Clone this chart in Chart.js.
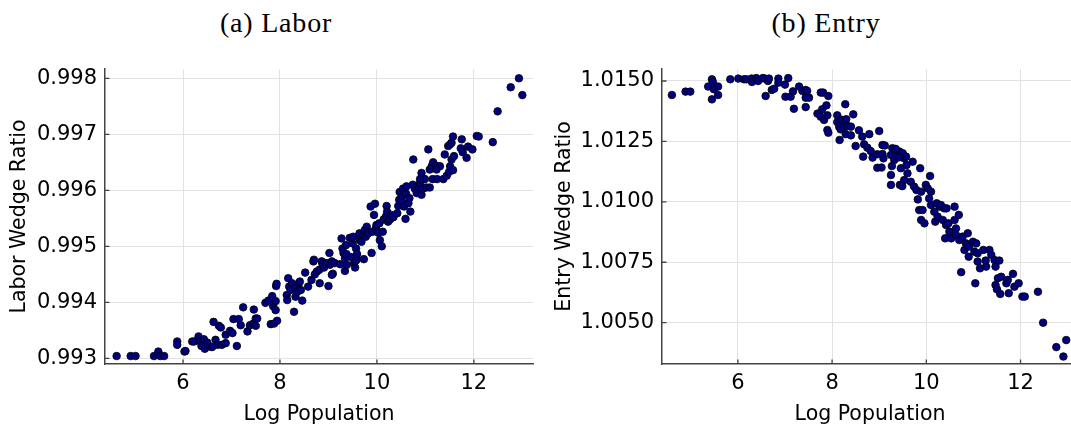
<!DOCTYPE html>
<html>
<head>
<meta charset="utf-8">
<script src="https://cdn.jsdelivr.net/npm/chart.js@4.4.1/dist/chart.umd.min.js"></script>
<style>
  html, body { margin: 0; padding: 0; background: #fff; overflow: hidden; width: 1071px; height: 424px; }
  .panel { position: absolute; top: 0; height: 430px; }
  .caption {
    position: absolute; top: 9px; width: 240px; text-align: center;
    font-family: "Liberation Serif", serif; font-size: 28px; line-height: 28px;
    letter-spacing: 0.8px; color: #000; white-space: nowrap;
  }
</style>
</head>
<body>
<div class="caption" style="left:156px">(a) Labor</div>
<div class="caption" style="left:706px">(b) Entry</div>
<div class="panel" style="left:0;width:540px"><canvas id="labor"></canvas></div>
<div class="panel" style="left:540px;width:545px"><canvas id="entry"></canvas></div>

<script>
// Shared x-axis ticks (log population)
const xTicks = [6, 8, 10, 12];

// Panel (a): labor wedge ratio by city
const laborTicks = [0.993, 0.994, 0.995, 0.996, 0.997, 0.998];
const laborLogPop = [
  4.63, 4.92, 5.02, 5.40, 5.49, 5.53, 5.61, 5.88, 5.88, 6.03, 6.05, 6.19, 6.23, 6.32, 6.34, 6.38,
  6.43, 6.45, 6.50, 6.56, 6.60, 6.63, 6.67, 6.71, 6.74, 6.78, 6.80, 6.88, 6.88, 6.97, 7.04, 7.15,
  7.02, 7.11, 7.19, 7.24, 7.33, 7.38, 7.45, 7.46, 7.50, 7.53, 7.50, 7.70, 7.76, 7.81, 7.84, 7.86,
  7.88, 7.91, 7.91, 7.92, 7.93, 7.94, 8.14, 8.15, 8.17, 8.19, 8.22, 8.25, 8.29, 8.31, 8.32, 8.36,
  8.39, 8.43, 8.46, 8.41, 8.52, 8.58, 8.65, 8.69, 8.70, 8.72, 8.76, 8.81, 8.82, 8.86, 8.88, 8.91,
  8.96, 9.00, 9.02, 9.03, 9.07, 9.09, 9.13, 9.24, 9.27, 9.29, 9.31, 9.34, 9.34, 9.36, 9.37, 9.38,
  9.44, 9.46, 9.50, 9.51, 9.53, 9.55, 9.57, 9.58, 9.59, 9.64, 9.65, 9.68, 9.72, 9.73, 9.75, 9.77,
  9.79, 9.80, 9.82, 9.87, 9.89, 9.91, 9.94, 9.96, 9.98, 9.99, 10.03, 10.05, 10.06, 10.10, 10.12, 10.14,
  10.19, 10.20, 10.21, 10.23, 10.27, 10.30, 10.34, 10.42, 10.44, 10.46, 10.47, 10.51, 10.53, 10.54, 10.56, 10.60,
  10.61, 10.65, 10.67, 10.69, 10.74, 10.78, 10.82, 10.85, 10.89, 10.92, 10.95, 10.75, 10.92, 10.99, 10.89, 11.02,
  11.09, 11.06, 11.09, 11.13, 11.16, 11.15, 11.22, 11.24, 11.30, 11.37, 11.40, 11.44, 11.47, 11.49, 11.51, 11.51,
  11.54, 11.54, 11.57, 11.57, 11.59, 11.73, 11.75, 11.77, 11.85, 11.88, 11.97, 12.06, 12.10, 12.39, 12.49, 12.76,
  12.93, 13.00, 9.07, 9.56, 10.59, 11.23
];
const laborRatio = [
  0.99304, 0.99304, 0.99304, 0.99304, 0.99312, 0.99304, 0.99304, 0.99330, 0.99324, 0.99312, 0.99313, 0.99330, 0.99330, 0.99339, 0.99331, 0.99322,
  0.99334, 0.99317, 0.99328, 0.99321, 0.99320, 0.99365, 0.99333, 0.99324, 0.99358, 0.99355, 0.99324, 0.99342, 0.99327, 0.99349, 0.99370, 0.99370,
  0.99345, 0.99322, 0.99359, 0.99391, 0.99348, 0.99359, 0.99362, 0.99387, 0.99371, 0.99371, 0.99358, 0.99399, 0.99403, 0.99361, 0.99411, 0.99393,
  0.99362, 0.99402, 0.99386, 0.99429, 0.99433, 0.99367, 0.99413, 0.99404, 0.99443, 0.99428, 0.99422, 0.99434, 0.99383, 0.99425, 0.99410, 0.99419,
  0.99434, 0.99422, 0.99403, 0.99437, 0.99453, 0.99428, 0.99440, 0.99473, 0.99476, 0.99450, 0.99455, 0.99458, 0.99434, 0.99473, 0.99467, 0.99462,
  0.99470, 0.99429, 0.99488, 0.99467, 0.99473, 0.99451, 0.99470, 0.99468, 0.99514, 0.99496, 0.99488, 0.99479, 0.99456, 0.99502, 0.99486, 0.99467,
  0.99515, 0.99481, 0.99505, 0.99517, 0.99470, 0.99462, 0.99496, 0.99476, 0.99486, 0.99523, 0.99511, 0.99508, 0.99520, 0.99477, 0.99529, 0.99517,
  0.99535, 0.99526, 0.99523, 0.99571, 0.99488, 0.99526, 0.99556, 0.99576, 0.99532, 0.99538, 0.99524, 0.99541, 0.99511, 0.99500, 0.99526, 0.99548,
  0.99554, 0.99572, 0.99562, 0.99544, 0.99548, 0.99556, 0.99552, 0.99559, 0.99572, 0.99583, 0.99597, 0.99589, 0.99578, 0.99603, 0.99571, 0.99594,
  0.99607, 0.99577, 0.99586, 0.99562, 0.99610, 0.99603, 0.99595, 0.99607, 0.99613, 0.99592, 0.99603, 0.99655, 0.99631, 0.99620, 0.99620, 0.99605,
  0.99605, 0.99673, 0.99637, 0.99643, 0.99650, 0.99620, 0.99644, 0.99620, 0.99643, 0.99620, 0.99664, 0.99626, 0.99679, 0.99633, 0.99682, 0.99643,
  0.99685, 0.99655, 0.99696, 0.99636, 0.99661, 0.99675, 0.99691, 0.99668, 0.99658, 0.99678, 0.99673, 0.99697, 0.99696, 0.99686, 0.99741, 0.99784,
  0.99800, 0.99770, 0.99449, 0.99474, 0.99549, 0.99637
];

// Panel (b): entry wedge ratio by city
const entryTicks = [1.0050, 1.0075, 1.0100, 1.0125, 1.0150];
const entryLogPop = [
  4.60, 4.89, 4.99, 5.37, 5.45, 5.47, 5.49, 5.58, 5.45, 5.58, 5.84, 6.01, 6.13, 6.18, 6.29, 6.30,
  6.39, 6.43, 6.53, 6.57, 6.64, 6.66, 6.86, 6.86, 7.07, 7.00, 6.59, 6.72, 6.77, 7.01, 7.12, 7.17,
  7.19, 7.30, 7.37, 7.44, 7.47, 7.44, 7.51, 7.44, 7.76, 7.81, 7.92, 7.88, 7.79, 7.69, 7.76, 7.83,
  7.90, 7.90, 7.92, 8.11, 8.11, 8.15, 8.18, 8.21, 8.26, 8.29, 8.16, 8.28, 8.30, 8.33, 8.40, 8.40,
  8.45, 8.50, 8.57, 8.64, 8.79, 8.68, 8.75, 8.82, 8.66, 8.86, 8.96, 8.96, 9.00, 9.07, 9.07, 9.09,
  9.25, 9.28, 9.32, 9.27, 9.25, 9.25, 9.36, 9.43, 9.46, 9.44, 9.50, 9.53, 9.57, 9.58, 9.60, 9.53,
  9.67, 9.71, 9.74, 9.79, 9.82, 9.87, 9.89, 9.85, 9.89, 9.92, 9.96, 9.99, 10.03, 10.08, 10.06, 10.10,
  10.10, 10.17, 10.19, 10.22, 10.24, 10.28, 10.31, 10.35, 10.38, 10.43, 10.42, 10.47, 10.49, 10.50, 10.60, 10.60,
  10.63, 10.69, 10.40, 10.53, 10.63, 10.70, 10.77, 10.81, 10.88, 10.84, 10.91, 10.90, 10.99, 11.02, 11.06, 11.09,
  11.09, 11.14, 11.21, 11.27, 11.26, 11.34, 11.38, 11.45, 11.47, 11.52, 11.55, 11.47, 11.50, 11.59, 11.57, 11.70,
  11.73, 11.75, 11.84, 11.87, 11.96, 12.04, 12.09, 12.37, 12.48, 12.76, 12.97, 12.91, 10.74, 11.04, 9.12, 9.35,
  9.42, 9.05, 9.49
];
const entryRatio = [
  1.01442, 1.01456, 1.01456, 1.01477, 1.01507, 1.01496, 1.01466, 1.01477, 1.01424, 1.01442, 1.01507, 1.01510, 1.01507, 1.01507, 1.01510, 1.01496,
  1.01512, 1.01500, 1.01512, 1.01510, 1.01500, 1.01510, 1.01510, 1.01493, 1.01512, 1.01485, 1.01438, 1.01463, 1.01468, 1.01435, 1.01435, 1.01457,
  1.01385, 1.01477, 1.01459, 1.01463, 1.01459, 1.01431, 1.01431, 1.01392, 1.01452, 1.01452, 1.01438, 1.01399, 1.01383, 1.01365, 1.01352, 1.01339,
  1.01358, 1.01297, 1.01286, 1.01358, 1.01330, 1.01311, 1.01300, 1.01339, 1.01310, 1.01280, 1.01256, 1.01404, 1.01342, 1.01314, 1.01311, 1.01275,
  1.01362, 1.01231, 1.01296, 1.01270, 1.01280, 1.01238, 1.01224, 1.01210, 1.01187, 1.01183, 1.01197, 1.01141, 1.01293, 1.01235, 1.01198, 1.01180,
  1.01194, 1.01222, 1.01173, 1.01148, 1.01111, 1.01070, 1.01194, 1.01208, 1.01139, 1.01070, 1.01201, 1.01180, 1.01187, 1.01152, 1.01118, 1.01090,
  1.01083, 1.01166, 1.01063, 1.01049, 1.01010, 1.01139, 1.01042, 1.00966, 1.00925, 1.00966, 1.00911, 1.01070, 1.01056, 1.01107, 1.01014, 1.01042,
  1.00987, 1.00959, 1.00918, 1.00994, 1.00939, 1.00980, 1.00987, 1.00925, 1.00973, 1.00973, 1.00904, 1.00911, 1.00877, 1.00856, 1.00980, 1.00925,
  1.00890, 1.00946, 1.00849, 1.00849, 1.00863, 1.00842, 1.00856, 1.00801, 1.00870, 1.00828, 1.00815, 1.00773, 1.00835, 1.00794, 1.00828, 1.00753,
  1.00787, 1.00725, 1.00801, 1.00732, 1.00757, 1.00801, 1.00780, 1.00759, 1.00732, 1.00684, 1.00757, 1.00656, 1.00638, 1.00690, 1.00619, 1.00663,
  1.00677, 1.00622, 1.00702, 1.00649, 1.00663, 1.00608, 1.00608, 1.00628, 1.00500, 1.00399, 1.00428, 1.00360, 1.00709, 1.00663, 1.01233, 1.01219,
  1.01184, 1.01142, 1.01065
];

const AXIS_COLOR = '#444444';
const GRID_COLOR = '#e2e2e2';
const TICK_FONT = { family: 'DejaVu Sans', size: 21 };
const TITLE_FONT = { family: 'DejaVu Sans', size: 20.5, lineHeight: 1.2 };

// Short inward tick marks on the left and bottom axes
const innerTicks = {
  id: 'innerTicks',
  beforeDatasetsDraw(chart) {
    const { ctx, chartArea: a, scales: { x, y } } = chart;
    ctx.save();
    ctx.strokeStyle = AXIS_COLOR;
    ctx.lineWidth = 1.3;
    ctx.beginPath();
    y.ticks.forEach(t => {
      const py = y.getPixelForValue(t.value);
      ctx.moveTo(a.left, py); ctx.lineTo(a.left + 4.5, py);
    });
    x.ticks.forEach(t => {
      const px = x.getPixelForValue(t.value);
      ctx.moveTo(px, a.bottom); ctx.lineTo(px, a.bottom - 4.5);
    });
    ctx.stroke();
    ctx.restore();
  }
};

function makePanel(id, xs, ys, opt) {
  const points = xs.map((v, i) => ({ x: v, y: ys[i] }));
  return new Chart(document.getElementById(id), {
    type: 'scatter',
    data: {
      datasets: [{
        data: points,
        backgroundColor: '#000080',
        borderColor: '#000000',
        borderWidth: 0.8,
        pointRadius: 3.8,
        pointHoverRadius: 3.8
      }]
    },
    options: {
      responsive: true,
      maintainAspectRatio: false,
      animation: false,
      events: [],
      layout: { padding: { left: 0, right: 7, top: 69, bottom: 0 } },
      plugins: { legend: { display: false }, tooltip: { enabled: false }, title: { display: false } },
      scales: {
        x: {
          type: 'linear',
          min: 4.39, max: 13.22,
          afterBuildTicks: s => { s.ticks = xTicks.map(v => ({ value: v })); },
          afterFit: s => { s.height = 66; },
          ticks: { font: TICK_FONT, color: '#000', padding: 7, maxRotation: 0, callback: v => String(v) },
          grid: { color: GRID_COLOR, lineWidth: 1, drawTicks: false },
          border: { display: true, color: AXIS_COLOR, width: 1.5 },
          title: { display: true, text: 'Log Population', font: TITLE_FONT, color: '#000', padding: { top: 0, bottom: 3 } }
        },
        y: {
          type: 'linear',
          min: opt.yMin, max: opt.yMax,
          afterBuildTicks: s => { s.ticks = opt.yTicks.map(v => ({ value: v })); },
          afterFit: s => { s.width = opt.axisWidth; },
          ticks: { font: TICK_FONT, color: '#000', padding: 8, callback: v => Number(v).toFixed(opt.digits) },
          grid: { color: GRID_COLOR, lineWidth: 1, drawTicks: false },
          border: { display: true, color: AXIS_COLOR, width: 1.5 },
          title: { display: true, text: opt.title, font: TITLE_FONT, color: '#000', padding: { top: opt.titlePad, bottom: 0 } }
        }
      }
    },
    plugins: [innerTicks]
  });
}

makePanel('labor', laborLogPop, laborRatio, {
  yMin: 0.992898, yMax: 0.998166, yTicks: laborTicks, digits: 3,
  axisWidth: 105, title: 'Labor Wedge Ratio', titlePad: 7
});
makePanel('entry', entryLogPop, entryRatio, {
  yMin: 1.003291, yMax: 1.015496, yTicks: entryTicks, digits: 4,
  axisWidth: 122, title: 'Entry Wedge Ratio', titlePad: 12
});
</script>
</body>
</html>
